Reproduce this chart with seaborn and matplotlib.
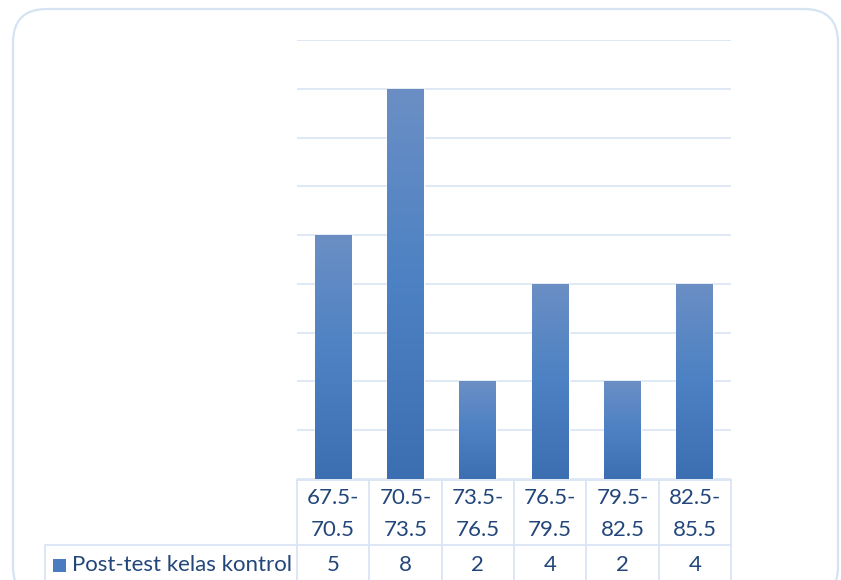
import numpy as np
import pandas as pd
import matplotlib
matplotlib.use("Agg")
import matplotlib.pyplot as plt
import seaborn as sns
from matplotlib.patches import FancyBboxPatch, Rectangle
from matplotlib.lines import Line2D
from matplotlib.transforms import blended_transform_factory
from matplotlib.colors import LinearSegmentedColormap

# Frequency distribution of post-test scores (control class)
intervals = ["67.5-70.5", "70.5-73.5", "73.5-76.5", "76.5-79.5", "79.5-82.5", "82.5-85.5"]
frequencies = [5, 8, 2, 4, 2, 4]
series_name = "Post-test kelas kontrol"

W, H = 841, 580
sns.set_theme(style="white")
plt.rcParams["font.family"] = ["Lato", "DejaVu Sans"]

TEXT = "#22467a"
GRID = "#d9e4f4"
bar_cmap = LinearSegmentedColormap.from_list(
    "bar", ["#6b8fc5", "#4c81c3", "#3c6fb2"])

fig = plt.figure(figsize=(W / 100, H / 100), dpi=100)

def fx(px):
    return px / W

def fy(py):
    return 1 - py / H

# plot area
ax_l, ax_r, ax_t, ax_b = 297, 731, 40, 479
ax = fig.add_axes([fx(ax_l), fy(ax_b), fx(ax_r - ax_l), (ax_b - ax_t) / H])

df = pd.DataFrame({"interval": intervals, "freq": frequencies})
sns.barplot(data=df, x="interval", y="freq", width=0.51, color="#4a7fc1",
            ax=ax, zorder=3)

ax.set_xlim(-0.5, len(intervals) - 0.5)
ax.set_ylim(0, 9)
ax.set_yticks(range(0, 10))
ax.set_xticks([])
ax.yaxis.grid(True, color=GRID, linewidth=1.2, zorder=0)
ax.tick_params(left=False, labelleft=False)
ax.set_xlabel("")
ax.set_ylabel("")
for s in ax.spines.values():
    s.set_visible(False)

# vertical gradient inside each bar
grad = np.linspace(0, 1, 256).reshape(-1, 1)
for p in list(ax.patches):
    x0, y0 = p.get_x(), p.get_y()
    w, h = p.get_width(), p.get_height()
    im = ax.imshow(grad, cmap=bar_cmap, aspect="auto",
                   extent=(x0, x0 + w, y0, y0 + h), origin="upper",
                   zorder=4, interpolation="bilinear")
    im.set_clip_path(p)
ax.set_xlim(-0.5, len(intervals) - 0.5)
ax.set_ylim(0, 9)

# outer rounded frame
frame = FancyBboxPatch((fx(13), fy(600)), fx(838 - 13), (600 - 9) / H,
                       boxstyle="round,pad=0,rounding_size=0.04",
                       transform=fig.transFigure, facecolor="none",
                       edgecolor="#d6e3f3", linewidth=1.6,
                       mutation_aspect=W / H)
fig.add_artist(frame)

# data table under the plot
tr = blended_transform_factory(ax.transData, fig.transFigure)
row1_top, row_split, row2_bot = 480, 545, 585
n = len(intervals)
for k in range(n + 1):
    xb = k - 0.5
    fig.add_artist(Line2D([xb, xb], [fy(row1_top), fy(row2_bot)],
                          transform=tr, color=GRID, linewidth=1.3))
fig.add_artist(Line2D([fx(45), fx(ax_r)], [fy(row_split), fy(row_split)],
                      transform=fig.transFigure, color=GRID, linewidth=1.3))
fig.add_artist(Line2D([fx(45), fx(45)], [fy(row_split), fy(row2_bot)],
                      transform=fig.transFigure, color=GRID, linewidth=1.3))
fig.add_artist(Line2D([fx(ax_l), fx(ax_r)], [fy(row1_top), fy(row1_top)],
                      transform=fig.transFigure, color=GRID, linewidth=1.3))

fs = 16
for i, (lab, v) in enumerate(zip(intervals, frequencies)):
    lo, hi = lab.split("-")
    fig.text(i, fy(498), lo + "-", transform=tr, ha="center", va="center",
             fontsize=fs, color=TEXT)
    fig.text(i, fy(530), hi, transform=tr, ha="center", va="center",
             fontsize=fs, color=TEXT)
    fig.text(i, fy(565), str(v), transform=tr, ha="center", va="center",
             fontsize=fs, color=TEXT)

# legend key in the table's row header
key = Rectangle((fx(53), fy(572)), fx(13), 13 / H, transform=fig.transFigure,
                facecolor="#4a7cbf", edgecolor="none")
fig.add_artist(key)
fig.text(fx(72), fy(565), series_name, ha="left", va="center",
         fontsize=fs, color=TEXT)

fig.savefig("out.png", dpi=100)
